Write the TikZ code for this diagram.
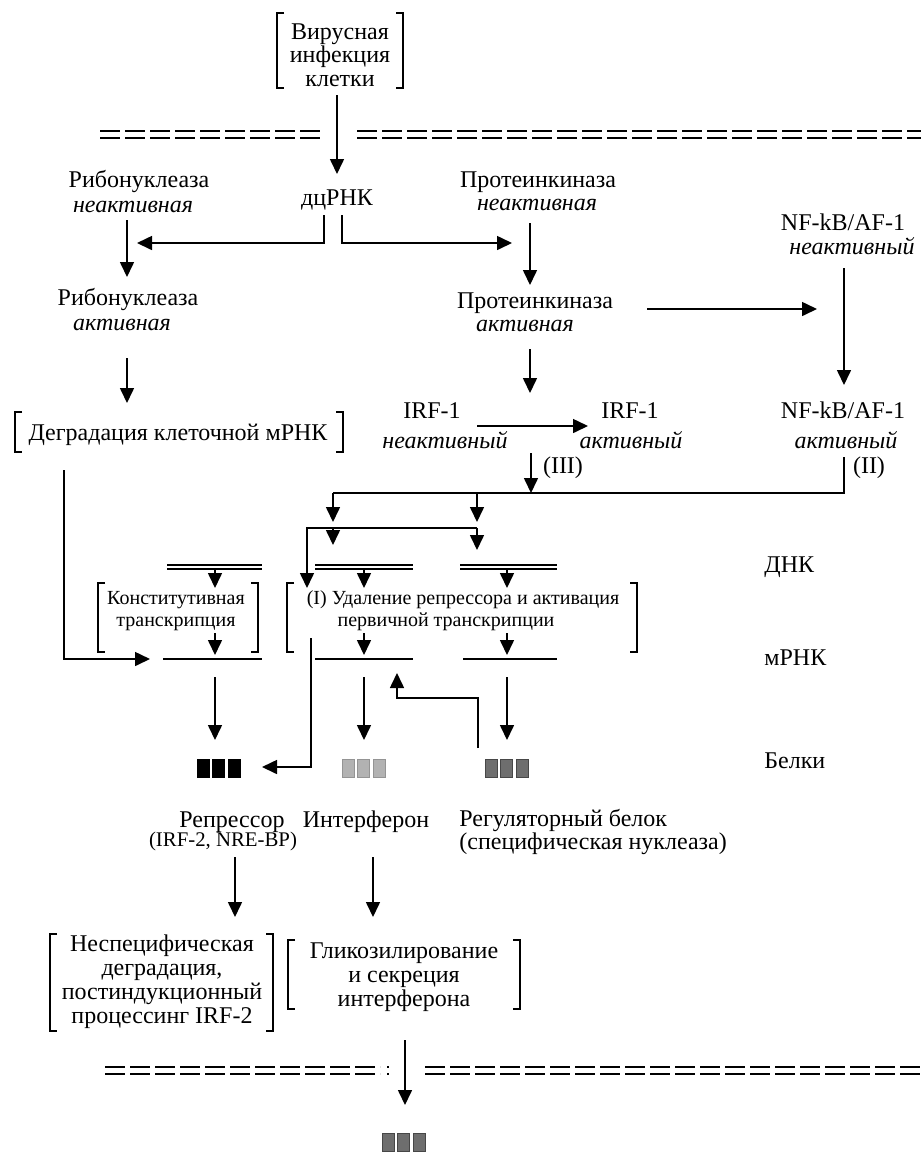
\documentclass[tikz,border=0pt]{standalone}
\usepackage{fontspec}
\setmainfont{Liberation Serif}
\usetikzlibrary{arrows.meta,calc}
\newcommand{\brpair}[4]{%
  \draw[brk] (#1+7,#2) -- (#1,#2) -- (#1,#4) -- (#1+7,#4);
  \draw[brk] (#3-7,#2) -- (#3,#2) -- (#3,#4) -- (#3-7,#4);}
\newcommand{\blocktrio}[5]{%
  \foreach \k in {0,1,2}{\fill[#4, draw=#5, line width=0.3pt] (#2+15.5*\k,#3) rectangle ++(12,18);}
  \coordinate (#1) at (#2+21.5,#3+9);}
\begin{document}
\begin{tikzpicture}[x=0.5pt,y=-0.5pt,
 lab/.style={inner sep=0pt, font=\fontsize{12}{12}\selectfont, text height=8pt, text depth=2.5pt},
 itl/.style={inner sep=0pt, font=\fontsize{12}{12}\selectfont\itshape, text height=8pt, text depth=2.5pt},
 sml/.style={inner sep=0pt, font=\fontsize{10.4}{10.4}\selectfont, text height=7pt, text depth=2pt},
 boxtxt/.style={inner sep=0pt, align=center, font=\fontsize{12}{12}\selectfont},
 boxsm/.style={inner sep=0pt, align=center, font=\fontsize{10}{11}\selectfont},
 arr/.style={line width=0.8pt, -{Triangle[length=7.5pt,width=7pt]}},
 ln/.style={line width=0.8pt},
 brk/.style={line width=0.8pt},
 dna/.style={double, double distance=1.4pt, line width=0.6pt},
 rna/.style={line width=0.8pt},
 memb/.style={line width=0.9pt, dash pattern=on 9.75pt off 2.75pt},
]
\useasboundingbox (0,0) rectangle (921,1153);
\fill[white] (0,0) rectangle (921,1153);

% ---------- text nodes ----------
\node[boxtxt, font=\fontsize{12}{11.8}\selectfont] (virus) at (340,55) {Вирусная\\инфекция\\клетки};
\brpair{277}{13}{403}{88}
\node[lab] (dsrna) at (337,200) {дцРНК};
\node[lab] (riboI) at (139,182) {Рибонуклеаза};
\node[itl] (riboIs) at (133,207) {неактивная};
\node[lab] (riboA) at (128,300) {Рибонуклеаза};
\node[itl] (riboAs) at (122,325) {активная};
\node[lab] (pkI) at (538,182) {Протеинкиназа};
\node[itl] (pkIs) at (537,205) {неактивная};
\node[lab] (pkA) at (535,303) {Протеинкиназа};
\node[itl] (pkAs) at (525,326) {активная};
\node[lab] (nfI) at (843,225) {NF-kB/AF-1};
\node[itl] (nfIs) at (852,249) {неактивный};
\node[lab] (nfA) at (843,413) {NF-kB/AF-1};
\node[itl] (nfAs) at (846,443) {активный};
\node[lab] (irfI) at (432,413) {IRF-1};
\node[itl] (irfIs) at (445,443) {неактивный};
\node[lab] (irfA) at (630,413) {IRF-1};
\node[itl] (irfAs) at (631,443) {активный};
\node[lab] (deg) at (178,435) {Деградация клеточной мРНК};
\brpair{15}{412}{343}{452}
\node[lab] (rIII) at (563,468) {(III)};
\node[lab] (rII) at (869,468) {(II)};
\node[boxsm] (const) at (176,611) {Конститутивная\\транскрипция};
\brpair{98}{583}{258}{652}
\node[boxsm] (prim) at (463,611) {(I) Удаление репрессора и активация\\первичной транскрипции\hspace*{17pt}};
\brpair{287}{583}{637}{652}
\node[lab, anchor=west] (dnaL) at (764,567) {ДНК};
\node[lab, anchor=west] (rnaL) at (764,660) {мРНК};
\node[lab, anchor=west] (protL) at (764,763) {Белки};
\node[lab] (rep) at (232,822) {Репрессор};
\node[sml] (repS) at (223,841) {(IRF-2, NRE-BP)};
\node[lab] (ifn) at (366,822) {Интерферон};
\node[boxtxt, align=left, anchor=west, font=\fontsize{12}{10.8}\selectfont] (reg) at (459,832) {Регуляторный белок\\(специфическая нуклеаза)};
\node[boxtxt] (nonsp) at (162,982) {Неспецифическая\\деградация,\\постиндукционный\\процессинг IRF-2};
\brpair{50}{934}{273}{1031}
\node[boxtxt] (glyc) at (404,977) {Гликозилирование\\и секреция\\интерферона};
\brpair{288}{940}{520}{1009}

% ---------- membranes ----------
\draw[memb] (100,131) -- (320,131);
\draw[memb] (100,138) -- (320,138);
\draw[memb] (357,131) -- (921,131);
\draw[memb] (357,138) -- (921,138);
\draw[memb] (105,1067) -- (380,1067);
\draw[memb] (105,1074) -- (380,1074);
\fill (387,1066) rectangle (389,1068);
\fill (387,1073) rectangle (389,1075);
\draw[memb] (425,1067) -- (921,1067);
\draw[memb] (425,1074) -- (921,1074);

% ---------- DNA / mRNA ----------
\coordinate (g1) at (215,567); \coordinate (g2) at (364,567); \coordinate (g3) at (507,567);
\draw[dna] (167,567) -- (262,567);
\draw[dna] (315,567) -- (413,567);
\draw[dna] (460,567) -- (557,567);
\draw[rna] (163,659) -- (262,659);
\draw[rna] (315,659) -- (413,659);
\draw[rna] (463,659) -- (557,659);

% ---------- proteins ----------
\blocktrio{pRep}{197}{759}{black}{black}
\blocktrio{pIfn}{342}{759}{black!30}{black!42}
\blocktrio{pReg}{485}{759}{black!57}{black!72}
\blocktrio{pOut}{382}{1133}{black!57}{black!72}

% ---------- connector points ----------
\coordinate (vB) at (337,95);   \coordinate (dsT) at (337,174);
\coordinate (dsBL) at (324,215); \coordinate (dsBR) at (342,215);
\coordinate (rbJ) at (137,243); \coordinate (pkJ) at (512,243);
\coordinate (riboIb) at (127,220); \coordinate (riboAt) at (127,277);
\coordinate (riboAb) at (127,358); \coordinate (degT) at (127,403);
\coordinate (pkIb) at (530,223); \coordinate (pkAt) at (530,285);
\coordinate (pkAr) at (647,309); \coordinate (nfJ) at (817,309);
\coordinate (nfIb) at (844,268); \coordinate (nfAt) at (844,385);
\coordinate (pkAb) at (530,349); \coordinate (irfT) at (530,393);
\coordinate (irfIr) at (477,426); \coordinate (irfAl) at (588,426);
\coordinate (irfAb) at (531,453); \coordinate (busM) at (531,493);
\coordinate (nfAb) at (844,457); \coordinate (busR) at (844,493);
\coordinate (busL) at (333,493); \coordinate (busC) at (477,493);
\coordinate (b2L) at (307,528); \coordinate (b2M) at (333,528); \coordinate (b2R) at (477,528);
\coordinate (degB) at (64,470); \coordinate (constIn) at (150,659);
\coordinate (repB) at (311,638); \coordinate (repIn) at (262,767);
\coordinate (regB) at (478,748); \coordinate (regT) at (397,673);
\coordinate (repA) at (235,857); \coordinate (nonspT) at (235,917);
\coordinate (ifnA) at (373,857); \coordinate (glycT) at (373,917);
\coordinate (glycB) at (405,1040); \coordinate (outT) at (405,1105);

% ---------- connectors ----------
\draw[arr] (vB) -- (dsT);
\draw[arr] (dsBL) |- (rbJ);
\draw[arr] (dsBR) |- (pkJ);
\draw[arr] (riboIb) -- (riboAt);
\draw[arr] (riboAb) -- (degT);
\draw[arr] (pkIb) -- (pkAt);
\draw[arr] (pkAr) -- (nfJ);
\draw[arr] (nfIb) -- (nfAt);
\draw[arr] (pkAb) -- (irfT);
\draw[arr] (irfIr) -- (irfAl);
\draw[arr] (irfAb) -- (busM);
\draw[ln] (nfAb) -- (busR) -- (busL);
\draw[arr] (busL) -- ++(0,29);
\draw[arr] (busC) -- ++(0,29);
\draw[arr] (b2R) -- (b2L) -- ++(0,60);
\draw[arr] (b2M) -- ++(0,17);
\draw[arr] (b2R) -- ++(0,22);
\foreach \g in {g1,g2,g3}{
  \draw[arr] ([yshift=-1pt]\g) -- ++(0,19);
  \draw[arr] ($(\g)+(0,66)$) -- ++(0,22);
  \draw[arr] ($(\g)+(0,110)$) -- ++(0,63);
}
\draw[arr] (degB) |- (constIn);
\draw[arr] (repB) |- (repIn);
\draw[arr] (regB) -- ++(0,-50) -| (regT);
\draw[arr] (repA) -- (nonspT);
\draw[arr] (ifnA) -- (glycT);
\draw[arr] (glycB) -- (outT);
\end{tikzpicture}
\end{document}
